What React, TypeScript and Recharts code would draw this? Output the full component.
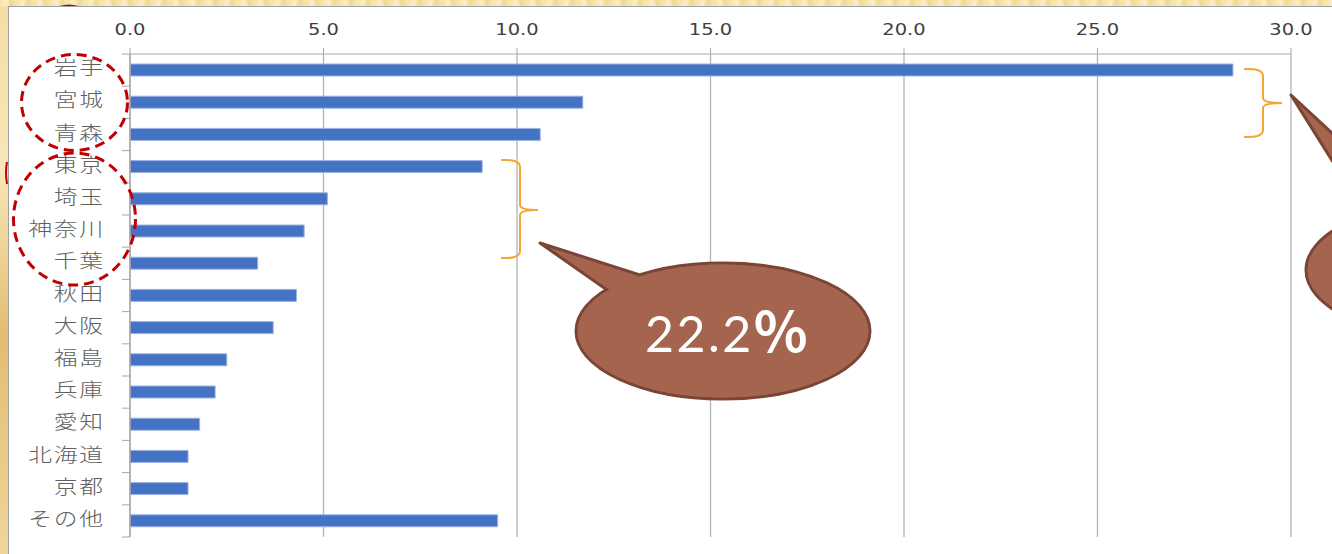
import { BarChart, Bar, XAxis, YAxis, CartesianGrid } from "recharts";

const categories = ["岩手", "宮城", "青森", "東京", "埼玉", "神奈川", "千葉", "秋田", "大阪", "福島", "兵庫", "愛知", "北海道", "京都", "その他"];
const values = [28.5, 11.7, 10.6, 9.1, 5.1, 4.5, 3.3, 4.3, 3.7, 2.5, 2.2, 1.8, 1.5, 1.5, 9.5];
const xTicks = [0, 5, 10, 15, 20, 25, 30];
const calloutNumber = "22.2";
const calloutUnit = "%";

const data = categories.map((name, i) => ({ name, value: values[i] }));

const W = 1332;
const H = 554;
const AXIS_X = 130;
const PLOT_TOP = 54;
const PLOT_BOTTOM = 537;
const BAND = (PLOT_BOTTOM - PLOT_TOP) / categories.length;
const GRAY = "#a8a8a8";

function XTick({ x, y, payload }: any) {
  return (
    <text
      transform={`translate(${x},${y}) scale(1.3,1)`}
      textAnchor="middle"
      fontFamily="DejaVu Sans"
      fontSize={15}
      fill="#404040"
    >
      {Number(payload.value).toFixed(1)}
    </text>
  );
}

function YTick({ y, payload, index }: any) {
  const last = index === categories.length - 1;
  return (
    <g>
      <line x1={AXIS_X - 8} x2={AXIS_X} y1={y - BAND / 2} y2={y - BAND / 2} stroke={GRAY} />
      {last && <line x1={AXIS_X - 8} x2={AXIS_X} y1={y + BAND / 2} y2={y + BAND / 2} stroke={GRAY} />}
      <text
        transform={`translate(105,${y + 5}) scale(1.22,1)`}
        textAnchor="end"
        fontFamily="Noto Sans CJK JP"
        fontWeight={300}
        fontSize={19.5}
        letterSpacing={1.5}
        fill="#606060"
      >
        {payload.value}
      </text>
    </g>
  );
}

// callout bubble: outline ellipse, tail on top, then inner fill to hide the seam
function Bubble({ cx, cy, rx, ry, tail }: { cx: number; cy: number; rx: number; ry: number; tail: string }) {
  return (
    <g>
      <ellipse cx={cx} cy={cy} rx={rx} ry={ry} fill="#a5644e" stroke="#7a4535" strokeWidth={3} />
      <polygon points={tail} fill="#a5644e" stroke="#7a4535" strokeWidth={3} strokeLinejoin="round" />
      <ellipse cx={cx} cy={cy} rx={rx - 1.6} ry={ry - 1.6} fill="#a5644e" />
    </g>
  );
}

export default function App() {
  return (
    <div
      style={{
        position: "fixed",
        left: 0,
        top: 0,
        width: W,
        height: H,
        overflow: "hidden",
        background:
          "repeating-linear-gradient(90deg, #f6e2a6 0px, #fbefc9 6px, #f1d792 11px, #f8e7b4 17px), linear-gradient(180deg, #f3dca0, #e6c278)",
      }}
    >
      <div
        style={{
          position: "absolute",
          left: 0,
          top: 6,
          width: 8,
          bottom: 0,
          background: "linear-gradient(180deg, #f4dea4 0%, #f7e7b8 30%, #e2bd72 60%, #f0d69a 100%)",
        }}
      />
      <svg width={W} height={H} style={{ position: "absolute", left: 0, top: 0 }}>
        <path d="M60,7 Q69,4 78,7" stroke="#c00000" strokeWidth={2} fill="none" />
        <path d="M7,162 Q5,172 7,184" stroke="#c00000" strokeWidth={2} fill="none" />
      </svg>
      <div
        style={{
          position: "absolute",
          left: 8,
          top: 6,
          right: -2,
          bottom: -2,
          background: "#fff",
          borderLeft: "1px solid #a0a0a0",
          borderTop: "1px solid #a0a0a0",
        }}
      />
      <div style={{ position: "absolute", left: 0, top: 0 }}>
        <BarChart
          width={W}
          height={H}
          data={data}
          layout="vertical"
          margin={{ top: 24, right: 41, bottom: 17, left: 0 }}
        >
          <CartesianGrid horizontal={false} stroke="#b4b4b4" strokeWidth={1.3} />
          <XAxis
            type="number"
            orientation="top"
            domain={[0, 30]}
            ticks={xTicks}
            height={30}
            tickSize={6}
            tickMargin={13}
            axisLine={{ stroke: GRAY }}
            tickLine={{ stroke: GRAY }}
            tick={<XTick />}
            interval={0}
          />
          <YAxis
            type="category"
            dataKey="name"
            width={130}
            interval={0}
            axisLine={{ stroke: GRAY, strokeWidth: 1.3 }}
            tickLine={false}
            tick={<YTick />}
          />
          <Bar dataKey="value" fill="#4472c4" stroke="#9db3e0" strokeWidth={1} barSize={12} isAnimationActive={false} />
        </BarChart>
      </div>
      <svg width={W} height={H} style={{ position: "absolute", left: 0, top: 0 }}>
        <g fill="none" stroke="#c00000" strokeWidth={3} strokeDasharray="10 6">
          <ellipse cx={74.5} cy={102.5} rx={53} ry={48} />
          <ellipse cx={74.5} cy={219} rx={61} ry={66} />
        </g>
        <g fill="none" stroke="#f5a632" strokeWidth={2}>
          <path d="M1244,69 Q1263,68 1263,76 L1263,98 Q1263,103 1282,103 Q1263,103 1263,108 L1263,130 Q1263,138 1244,137" />
          <path d="M501,160 Q520,159 520,167 L520,205 Q520,210 538,210 Q520,210 520,215 L520,251 Q520,259 501,258" />
        </g>
        <Bubble cx={723} cy={331} rx={147} ry={68} tail="540,243 690,291 640,313" />
        <Bubble cx={1453} cy={270} rx={147} ry={68} tail="1291,95 1447,240 1382,240" />
        <text x={645} y={352} fill="#fff">
          <tspan fontFamily="Lato" fontWeight={400} fontSize={50} letterSpacing={2.5}>{calloutNumber}</tspan>
          <tspan fontFamily="Noto Sans CJK JP" fontSize={56} fontWeight={600} dx={0}>{calloutUnit}</tspan>
        </text>
      </svg>
    </div>
  );
}
